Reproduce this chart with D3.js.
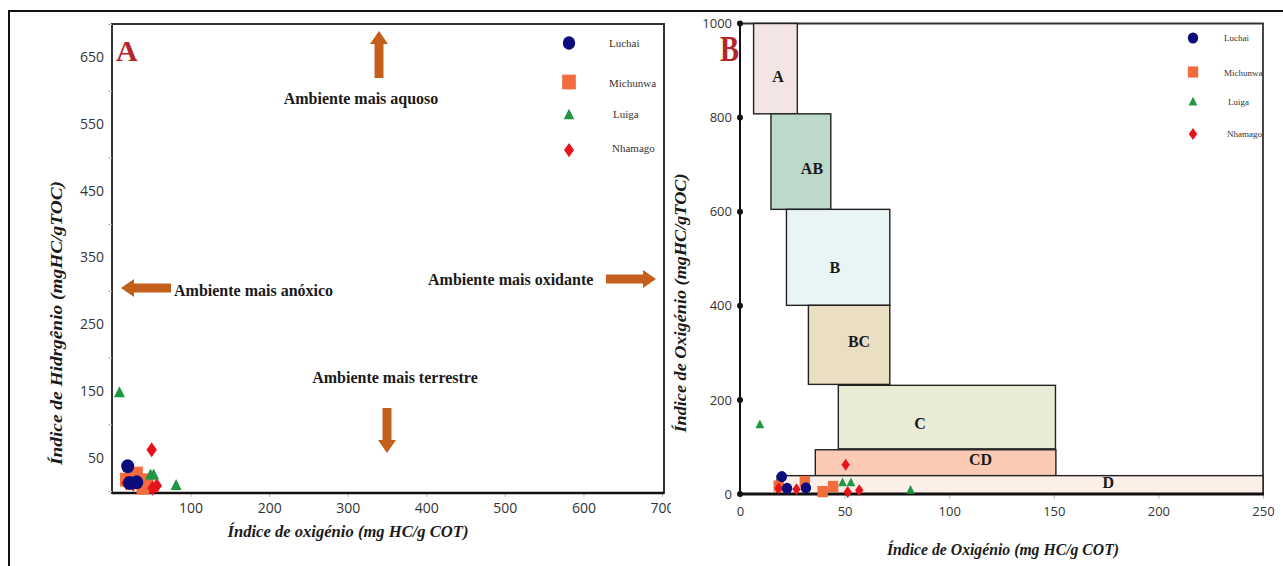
<!DOCTYPE html>
<html>
<head>
<meta charset="utf-8">
<script src="https://cdn.jsdelivr.net/npm/d3@7"></script>
<style>
  body { margin: 0; background: #fff; }
  svg { display: block; }
  .tick text { font-family: "Open Sans", sans-serif; fill: #333; }
</style>
</head>
<body>
<svg id="chart" width="1283" height="566"></svg>
<script>
// ---- data: (oxygen index, hydrogen index) per site ----
const seriesNames = ["Luchai", "Michunwa", "Luiga", "Nhamago"];
const luchai   = [[20, 37], [22.5, 12], [31.5, 13]];
const michunwa = [[18.5, 17], [31, 26], [39.5, 5], [44.5, 16]];
const luiga    = [[9.5, 147], [49, 24], [53, 24], [81.5, 8]];
const nhamago  = [[50.5, 62], [27, 10], [51.5, 4], [57, 8], [18.5, 12]];

// tick values
const oiTicksA   = [100, 200, 300, 400, 500, 600, 700];
const hiLabelsA  = [50, 150, 250, 350, 450, 550, 650];
const hiMarksA   = [0, 100, 200, 300, 400, 500, 600, 700];
const oiTicksB   = [0, 50, 100, 150, 200, 250];
const hiTicksB   = [0, 200, 400, 600, 800, 1000];

// organic facies fields: name, OI range, HI range, label anchor (OI, HI)
const faciesNames = ["A", "AB", "B", "BC", "C", "CD", "D"];
const faciesOI    = [[6.5, 27.4], [14.8, 43.4], [22.2, 71.6], [32.7, 71.6], [47, 150.8], [36, 151], [17.7, 250]];
const faciesHI    = [[808, 1000], [605, 808], [401, 605], [233, 401], [96, 231], [39, 94], [0, 39]];
const faciesLabel = [[18.2, 887], [34.4, 691], [45.3, 482], [56.9, 325], [86, 149], [115, 74], [176, 24]];

// ---- styles ----
const colors = { Luchai: "#0c0c7c", Michunwa: "#f36c3d", Luiga: "#1f9641", Nhamago: "#e5141b" };
const faciesFill = { A: "#f4e5e5", AB: "#bcd9cb", B: "#e9f4f5", BC: "#ebdfc3", C: "#e9ebd7", CD: "#fbcab5", D: "#fcefe8" };
const arrowColor = "#c55f1c";
const serif = "'Liberation Serif', 'Times New Roman', serif";

const seriesData = { Luchai: luchai, Michunwa: michunwa, Luiga: luiga, Nhamago: nhamago };
const drawOrder = ["Michunwa", "Nhamago", "Luiga", "Luchai"];

const svg = d3.select("#chart");

// outer frame lines
svg.append("path").attr("d", "M9,566 V11 H1283").attr("fill", "none")
  .attr("stroke", "#111").attr("stroke-width", 2);

// marker shapes
function marker(g, name, x, y, k) {
  const c = colors[name];
  if (name === "Luchai") {
    g.append("ellipse").attr("cx", x).attr("cy", y).attr("rx", 6.5 * k).attr("ry", 7 * k).attr("fill", c);
  } else if (name === "Michunwa") {
    const w = 13 * k, h = 14 * k;
    g.append("rect").attr("x", x - w / 2).attr("y", y - h / 2).attr("width", w).attr("height", h).attr("fill", c);
  } else if (name === "Luiga") {
    const w = 11 * k, h = 11 * k;
    g.append("path").attr("d", `M${x},${y - h * 0.6} L${x + w / 2},${y + h * 0.4} L${x - w / 2},${y + h * 0.4} Z`).attr("fill", c);
  } else {
    const w = 10.5 * k, h = 15 * k;
    g.append("path").attr("d", `M${x},${y - h / 2} L${x + w / 2},${y} L${x},${y + h / 2} L${x - w / 2},${y} Z`).attr("fill", c);
  }
}

function arrow(g, x1, y1, x2, y2) {
  // shaft from (x1,y1) to head tip at (x2,y2)
  const dx = x2 - x1, dy = y2 - y1, L = Math.hypot(dx, dy);
  const ux = dx / L, uy = dy / L, px = -uy, py = ux;
  const sw = 4.5, hw = 9, hl = 13;
  const bx = x2 - ux * hl, by = y2 - uy * hl;
  const pts = [
    [x1 + px * sw, y1 + py * sw], [bx + px * sw, by + py * sw], [bx + px * hw, by + py * hw],
    [x2, y2],
    [bx - px * hw, by - py * hw], [bx - px * sw, by - py * sw], [x1 - px * sw, y1 - py * sw]
  ];
  g.append("path").attr("d", "M" + pts.map(p => p.join(",")).join("L") + "Z").attr("fill", arrowColor);
}

// ================= Panel A =================
svg.append("clipPath").attr("id", "clipA").append("rect").attr("x", 0).attr("y", 0).attr("width", 671).attr("height", 566);
const gA = svg.append("g").attr("clip-path", "url(#clipA)");

const xA = d3.scaleLinear().domain([0, 700]).range([112, 662]);
const yA = d3.scaleLinear().domain([0, 700]).range([491, 24]);

gA.append("rect").attr("x", 112).attr("y", 24).attr("width", 552).attr("height", 469)
  .attr("fill", "#fff").attr("stroke", "#333").attr("stroke-width", 2);

// y axis: small marks at hundreds, labels at fifties
const yAmarks = gA.append("g").attr("transform", "translate(112,0)")
  .call(d3.axisLeft(yA).tickValues(hiMarksA).tickSize(4).tickFormat(""));
yAmarks.select(".domain").remove();
yAmarks.selectAll(".tick line").attr("stroke", "#bbb");
const yAlabels = gA.append("g").attr("transform", "translate(112,0)")
  .call(d3.axisLeft(yA).tickValues(hiLabelsA).tickSize(0).tickPadding(8));
yAlabels.select(".domain").remove();
yAlabels.selectAll(".tick text").attr("font-size", 14);

const xAaxis = gA.append("g").attr("transform", "translate(0,493)")
  .call(d3.axisBottom(xA).tickValues(oiTicksA).tickSize(4).tickPadding(6).tickFormat(d3.format("d")));
xAaxis.select(".domain").remove();
xAaxis.selectAll(".tick line").attr("stroke", "#bbb");
xAaxis.selectAll(".tick text").attr("font-size", 14);
gA.append("line").attr("x1", 112).attr("x2", 664).attr("y1", 493).attr("y2", 493).attr("stroke", "#111").attr("stroke-width", 2.5);

// panel letter
gA.append("text").attr("x", 116).attr("y", 61).text("A")
  .attr("font-family", serif).attr("font-weight", "bold").attr("font-size", 30).attr("fill", "#b5262b");

// environment annotations
const annStyle = sel => sel.attr("font-family", serif).attr("font-weight", "bold").attr("font-size", 16).attr("fill", "#1a1a1a");
gA.append("text").attr("x", 361).attr("y", 104).attr("text-anchor", "middle").text("Ambiente mais aquoso").call(annStyle);
gA.append("text").attr("x", 174).attr("y", 296).text("Ambiente mais anóxico").call(annStyle);
gA.append("text").attr("x", 428).attr("y", 285).text("Ambiente mais oxidante").call(annStyle);
gA.append("text").attr("x", 395).attr("y", 383).attr("text-anchor", "middle").text("Ambiente mais terrestre").call(annStyle);
arrow(gA, 379, 78, 379, 31);
arrow(gA, 171, 288, 121, 288);
arrow(gA, 606, 279, 656, 279);
arrow(gA, 387, 408, 387, 453);

// legend A
const legA = gA.append("g");
[[43, 43], [82, 83], [115, 114], [150, 148]].forEach(([my, ty], i) => {
  const n = seriesNames[i];
  marker(legA, n, 569, my, i === 1 ? 1.05 : 0.95);
  legA.append("text").attr("x", i === 2 ? 613 : (i === 3 ? 612 : 609)).attr("y", ty).attr("dy", "0.35em")
    .text(n).attr("font-family", serif).attr("font-size", 11).attr("fill", "#333");
});

// points A
const ptsA = gA.append("g");
drawOrder.forEach(n => seriesData[n].forEach(d => marker(ptsA, n, xA(d[0]), yA(d[1]), 1)));

// axis titles A
const titleStyle = sel => sel.attr("font-family", serif).attr("font-weight", "bold").attr("font-style", "italic")
  .attr("font-size", 16).attr("fill", "#1a1a1a");
svg.append("text").attr("transform", "translate(62,323) rotate(-90)").attr("text-anchor", "middle")
  .text("Índice de Hidrgênio (mgHC/gTOC)").call(titleStyle).attr("textLength", 284).attr("lengthAdjust", "spacingAndGlyphs");
svg.append("text").attr("x", 348).attr("y", 537).attr("text-anchor", "middle")
  .text("Índice de oxigénio (mg HC/g COT)").call(titleStyle).attr("textLength", 241).attr("lengthAdjust", "spacingAndGlyphs");

// ================= Panel B =================
const gB = svg.append("g");
const xB = d3.scaleLinear().domain([0, 250]).range([740, 1263]);
const yB = d3.scaleLinear().domain([0, 1000]).range([494, 23.5]);

// plot frame (top and right)
gB.append("path").attr("d", `M740,${yB(1000)} H1263 V494`).attr("fill", "none").attr("stroke", "#333").attr("stroke-width", 1.8);

// facies fields
faciesNames.forEach((name, i) => {
  const [o0, o1] = faciesOI[i], [h0, h1] = faciesHI[i];
  gB.append("rect").attr("x", xB(o0)).attr("y", yB(h1)).attr("width", xB(o1) - xB(o0)).attr("height", yB(h0) - yB(h1))
    .attr("fill", faciesFill[name]).attr("stroke", "#222").attr("stroke-width", 1.4);
});
faciesNames.forEach((name, i) => {
  gB.append("text").attr("x", xB(faciesLabel[i][0])).attr("y", yB(faciesLabel[i][1])).attr("dy", "0.35em")
    .attr("text-anchor", "middle").text(name)
    .attr("font-family", serif).attr("font-weight", "bold").attr("font-size", 16).attr("fill", "#1a1a1a");
});

// axes
const xBaxis = gB.append("g").attr("transform", "translate(0,494)")
  .call(d3.axisBottom(xB).tickValues(oiTicksB).tickSize(5).tickPadding(8).tickFormat(d3.format("d")));
xBaxis.select(".domain").remove();
xBaxis.selectAll(".tick line").attr("stroke", "#bbb");
xBaxis.selectAll(".tick text").attr("font-size", 13);

const yBaxis = gB.append("g").attr("transform", "translate(740,0)")
  .call(d3.axisLeft(yB).tickValues(hiTicksB).tickSize(0).tickPadding(8).tickFormat(d3.format("d")));
yBaxis.select(".domain").remove();
yBaxis.selectAll(".tick text").attr("font-size", 13);
gB.append("line").attr("x1", 740).attr("x2", 740).attr("y1", yB(1000)).attr("y2", 494).attr("stroke", "#111").attr("stroke-width", 2);
gB.append("line").attr("x1", 738).attr("x2", 1264).attr("y1", 494).attr("y2", 494).attr("stroke", "#111").attr("stroke-width", 3);
gB.selectAll(".ydot").data(hiTicksB).join("circle").attr("class", "ydot")
  .attr("cx", 740).attr("cy", d => yB(d)).attr("r", 3).attr("fill", "#111");

// panel letter
gB.append("text").attr("x", 720).attr("y", 61).text("B")
  .attr("font-family", serif).attr("font-weight", "bold").attr("font-size", 36).attr("fill", "#b5262b")
  .attr("textLength", 19).attr("lengthAdjust", "spacingAndGlyphs");

// legend B
const legB = gB.append("g");
[[38, 38], [72, 73], [102, 102], [134, 134]].forEach(([my, ty], i) => {
  const n = seriesNames[i];
  marker(legB, n, 1193, my, 0.8);
  legB.append("text").attr("x", i === 2 ? 1228 : (i === 3 ? 1227 : 1224)).attr("y", ty).attr("dy", "0.35em")
    .text(n).attr("font-family", serif).attr("font-size", 9).attr("fill", "#333");
});

// points B
const ptsB = gB.append("g");
drawOrder.forEach(n => seriesData[n].forEach(d => marker(ptsB, n, xB(d[0]), yB(d[1]), 0.8)));

// axis titles B
svg.append("text").attr("transform", "translate(686,303) rotate(-90)").attr("text-anchor", "middle")
  .text("Índice de Oxigénio (mgHC/gTOC)").call(titleStyle).attr("textLength", 259).attr("lengthAdjust", "spacingAndGlyphs");
svg.append("text").attr("x", 1003).attr("y", 555).attr("text-anchor", "middle")
  .text("Índice de Oxigénio (mg HC/g COT)").call(titleStyle).attr("textLength", 232).attr("lengthAdjust", "spacingAndGlyphs");
</script>
</body>
</html>
